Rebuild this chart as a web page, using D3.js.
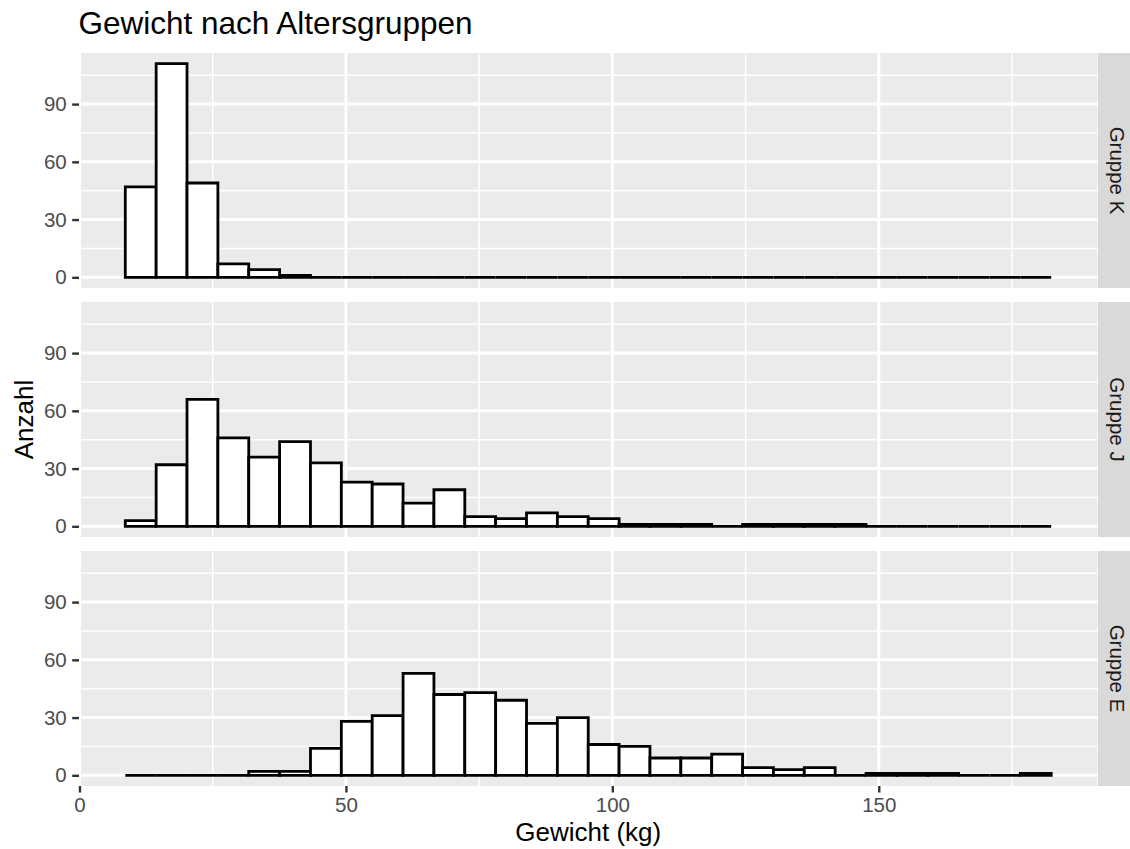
<!DOCTYPE html>
<html>
<head>
<meta charset="utf-8">
<script src="https://cdn.jsdelivr.net/npm/d3@7"></script>
<style>
  html, body { margin: 0; padding: 0; background: #ffffff; }
  svg { display: block; font-family: "Liberation Sans", Arial, sans-serif; }
</style>
</head>
<body>
<svg id="chart" width="1130" height="849"></svg>
<script>
// Histogram counts per age group (30 equal-width bins)
const groups = ["Gruppe K", "Gruppe J", "Gruppe E"];
const countsK = [47, 111, 49, 7, 4, 1, 0, 0, 0, 0, 0, 0, 0, 0, 0, 0, 0, 0, 0, 0, 0, 0, 0, 0, 0, 0, 0, 0, 0, 0];
const countsJ = [3, 32, 66, 46, 36, 44, 33, 23, 22, 12, 19, 5, 4, 7, 5, 4, 1, 1, 1, 0, 1, 1, 1, 1, 0, 0, 0, 0, 0, 0];
const countsE = [0, 0, 0, 0, 2, 2, 14, 28, 31, 53, 42, 43, 39, 27, 30, 16, 15, 9, 9, 11, 4, 3, 4, 0, 1, 1, 1, 0, 0, 1];
const binStart = 8.6;     // lower edge of the first bin (kg)
const binWidth = 5.792;   // bin width (kg)
const xTicks = [0, 50, 100, 150];
const xMinor = [25, 75, 125, 175];
const yTicks = [0, 30, 60, 90];
const yMinor = [15, 45, 75, 105];

const seriesByGroup = [countsK, countsJ, countsE];

const svg = d3.select("#chart");

const panelLeft = 79, panelRight = 1097.5;
const panelTop0 = 53, panelH = 235, panelPitch = 249;
const stripW = 40;

// bins as {x0, x1, n}
const bins = seriesByGroup.map(arr => arr.map((n, i) => ({
  x0: binStart + i * binWidth,
  x1: binStart + (i + 1) * binWidth,
  n
})));

// x scale with 5% expansion on both sides
const xLo = binStart, xHi = binStart + countsK.length * binWidth;
const xPad = (xHi - xLo) * 0.05;
const x = d3.scaleLinear().domain([xLo - xPad, xHi + xPad]).range([panelLeft, panelRight]);

const yMax = d3.max(seriesByGroup.flat());

// Title
svg.append("text")
  .attr("x", 78.5).attr("y", 33.5)
  .attr("font-size", 31.5).attr("fill", "#000")
  .text("Gewicht nach Altersgruppen");

groups.forEach((g, gi) => {
  const top = panelTop0 + gi * panelPitch;
  const bottom = top + panelH;
  const y = d3.scaleLinear().domain([-0.05 * yMax, 1.05 * yMax]).range([bottom, top]);
  const p = svg.append("g");

  // panel background
  p.append("rect")
    .attr("x", panelLeft).attr("y", top)
    .attr("width", panelRight - panelLeft).attr("height", panelH)
    .attr("fill", "#EBEBEB");

  // minor grid
  p.selectAll(".ymin").data(yMinor).join("line")
    .attr("x1", panelLeft).attr("x2", panelRight)
    .attr("y1", d => y(d)).attr("y2", d => y(d))
    .attr("stroke", "#fff").attr("stroke-width", 1.5);
  p.selectAll(".xmin").data(xMinor).join("line")
    .attr("y1", top).attr("y2", bottom)
    .attr("x1", d => x(d)).attr("x2", d => x(d))
    .attr("stroke", "#fff").attr("stroke-width", 1.5);
  // major grid
  p.selectAll(".ymaj").data(yTicks).join("line")
    .attr("x1", panelLeft).attr("x2", panelRight)
    .attr("y1", d => y(d)).attr("y2", d => y(d))
    .attr("stroke", "#fff").attr("stroke-width", 3);
  p.selectAll(".xmaj").data(xTicks.filter(d => x(d) >= panelLeft)).join("line")
    .attr("y1", top).attr("y2", bottom)
    .attr("x1", d => x(d)).attr("x2", d => x(d))
    .attr("stroke", "#fff").attr("stroke-width", 3);

  // bars as closed outlines, so empty bins still show their baseline stroke
  p.selectAll(".bar").data(bins[gi]).join("path")
    .attr("class", "bar")
    .attr("d", d => {
      const xa = x(d.x0), xb = x(d.x1), y0 = y(0), y1 = y(d.n);
      return `M${xa},${y0}H${xb}V${y1}H${xa}Z`;
    })
    .attr("fill", "#fff")
    .attr("stroke", "#000")
    .attr("stroke-width", 2.8);

  // y axis
  const ya = svg.append("g")
    .attr("transform", `translate(${panelLeft},0)`)
    .call(d3.axisLeft(y).tickValues(yTicks).tickSize(6.8).tickPadding(5.5).tickSizeOuter(0));
  ya.select(".domain").remove();
  ya.selectAll("line").attr("stroke", "#333").attr("stroke-width", 2.4);
  ya.selectAll("text").attr("font-size", 20.5).attr("fill", "#4D4D4D")
    .attr("font-family", "'Liberation Sans', Arial, sans-serif");

  // facet strip
  svg.append("rect")
    .attr("x", panelRight + 0.5).attr("y", top)
    .attr("width", stripW).attr("height", panelH)
    .attr("fill", "#D9D9D9");
  svg.append("text")
    .attr("transform", `translate(${panelRight + 12},${(top + bottom) / 2}) rotate(90)`)
    .attr("text-anchor", "middle")
    .attr("font-size", 20.5).attr("fill", "#1A1A1A")
    .text(g);

  if (gi === groups.length - 1) {
    const xa = svg.append("g")
      .attr("transform", `translate(0,${bottom})`)
      .call(d3.axisBottom(x).tickValues(xTicks).tickSize(6.5).tickPadding(5).tickSizeOuter(0));
    xa.select(".domain").remove();
    xa.selectAll("line").attr("stroke", "#333").attr("stroke-width", 2.4);
    xa.selectAll("text").attr("font-size", 20.5).attr("fill", "#4D4D4D")
      .attr("font-family", "'Liberation Sans', Arial, sans-serif");
  }
});

// axis titles
svg.append("text")
  .attr("x", (panelLeft + panelRight) / 2).attr("y", 840.5)
  .attr("text-anchor", "middle")
  .attr("font-size", 26).attr("fill", "#000")
  .text("Gewicht (kg)");

svg.append("text")
  .attr("transform", `translate(32.5,${panelTop0 + (panelPitch * 2 + panelH) / 2}) rotate(-90)`)
  .attr("text-anchor", "middle")
  .attr("font-size", 26).attr("fill", "#000")
  .text("Anzahl");
</script>
</body>
</html>
